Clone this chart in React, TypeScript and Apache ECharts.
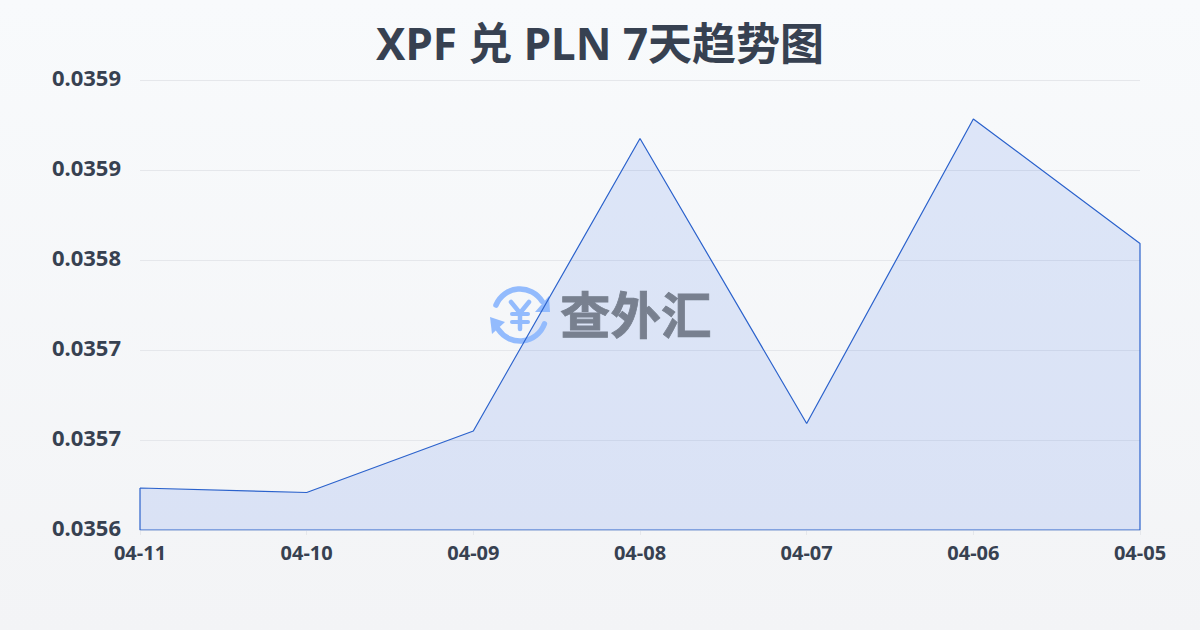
import React, { useEffect, useRef } from "react";
import * as echarts from "echarts";

const titleText = "XPF 兑 PLN 7天趋势图";
const watermarkText = "查外汇";
const categories = ["04-11", "04-10", "04-09", "04-08", "04-07", "04-06", "04-05"];
const rates = [0.035648, 0.035645, 0.035686, 0.035881, 0.035691, 0.035894, 0.035811];
const yTicks = [0.03562, 0.03568, 0.03574, 0.0358, 0.03586, 0.03592];
const yMin = 0.03562;
const yMax = 0.03592;

const INK = "#374151";
const LINE = "#2b62cc";
const LOGO_BLUE = "#93bbfd";
const FONT = "'Noto Sans', 'Noto Sans CJK SC', sans-serif";

export default function App() {
  const ref = useRef<HTMLDivElement>(null);
  useEffect(() => {
    document.body.style.margin = "0";
    const chart = echarts.init(ref.current!, null, { renderer: "svg" });
    const n = categories.length - 1;
    const outline = [
      ...categories.map((c, i) => [i, rates[i]]),
      [n, yMin],
      [0, yMin],
      [0, rates[0]],
    ];
    chart.setOption({
      animation: false,
      backgroundColor: new echarts.graphic.LinearGradient(0, 0, 0, 1, [
        { offset: 0, color: "#f8fafc" },
        { offset: 1, color: "#f3f4f6" },
      ]),
      textStyle: { fontFamily: FONT },
      title: {
        text: titleText,
        left: "center",
        top: 16,
        textStyle: { fontSize: 44, fontWeight: "bold", color: INK, fontFamily: FONT },
      },
      grid: { left: 140, right: 60, top: 80, bottom: 100 },
      xAxis: {
        type: "category",
        data: categories,
        boundaryGap: false,
        axisLine: { show: false },
        axisTick: { show: true, length: 5, lineStyle: { color: "#e5e7eb" } },
        axisLabel: { color: INK, fontSize: 20, fontWeight: "bold", margin: 12, showMinLabel: true, showMaxLabel: true, interval: 0, fontFamily: FONT },
        splitLine: { show: false },
      },
      yAxis: {
        type: "value",
        min: yMin,
        max: yMax,
        axisLine: { show: false },
        axisTick: { show: false, customValues: yTicks },
        axisLabel: {
          customValues: yTicks,
          color: INK,
          fontSize: 22,
          fontWeight: "bold",
          margin: 19,
          verticalAlign: "bottom",
          lineHeight: 6,
          fontFamily: FONT,
          formatter: (v: number) => v.toFixed(4),
        },
        splitLine: { show: true, lineStyle: { color: "#e5e7eb", width: 1 } },
      },
      series: [
        {
          type: "line",
          data: rates,
          symbol: "none",
          silent: true,
          lineStyle: { width: 0 },
          areaStyle: { origin: "start", color: "rgba(37,99,235,0.18)" },
          z: 2,
        },
        {
          type: "line",
          data: outline,
          symbol: "none",
          silent: true,
          lineStyle: { width: 1.2, color: LINE },
          z: 4,
        },
      ],
      graphic: [
        {
          type: "group",
          silent: true,
          children: [
            { type: "arc", z: 3, shape: { cx: 520, cy: 315, r: 26, startAngle: -2.75, endAngle: -0.55 }, style: { stroke: LOGO_BLUE, lineWidth: 5.5, fill: "none", lineCap: "round" } },
            { type: "arc", z: 3, shape: { cx: 520, cy: 315, r: 26, startAngle: 0.35, endAngle: 2.55 }, style: { stroke: LOGO_BLUE, lineWidth: 5.5, fill: "none", lineCap: "round" } },
            { type: "polygon", z: 3, shape: { points: [[535, 312], [550, 312], [549, 296]] }, style: { fill: LOGO_BLUE } },
            { type: "polygon", z: 3, shape: { points: [[490, 317], [505, 322], [492, 334]] }, style: { fill: LOGO_BLUE } },
            { type: "polyline", z: 3, shape: { points: [[511, 302], [520, 313], [529, 302]] }, style: { stroke: LOGO_BLUE, lineWidth: 4.5, fill: "none", lineCap: "round", lineJoin: "round" } },
            { type: "line", z: 3, shape: { x1: 520, y1: 313, x2: 520, y2: 329 }, style: { stroke: LOGO_BLUE, lineWidth: 4.5, lineCap: "round" } },
            { type: "line", z: 3, shape: { x1: 512, y1: 314, x2: 528, y2: 314 }, style: { stroke: LOGO_BLUE, lineWidth: 4, lineCap: "round" } },
            { type: "line", z: 3, shape: { x1: 512, y1: 322, x2: 528, y2: 322 }, style: { stroke: LOGO_BLUE, lineWidth: 4, lineCap: "round" } },
            {
              type: "text",
              z: 3,
              x: 560,
              y: 287,
              style: { text: watermarkText, fill: "#78808f", stroke: "#78808f", lineWidth: 0.8, fontSize: 50.5, fontWeight: "bold", fontFamily: "'Noto Sans CJK SC', sans-serif" },
            },
          ],
        },
      ],
    });
    return () => chart.dispose();
  }, []);
  return <div ref={ref} style={{ width: 1200, height: 630 }} />;
}
